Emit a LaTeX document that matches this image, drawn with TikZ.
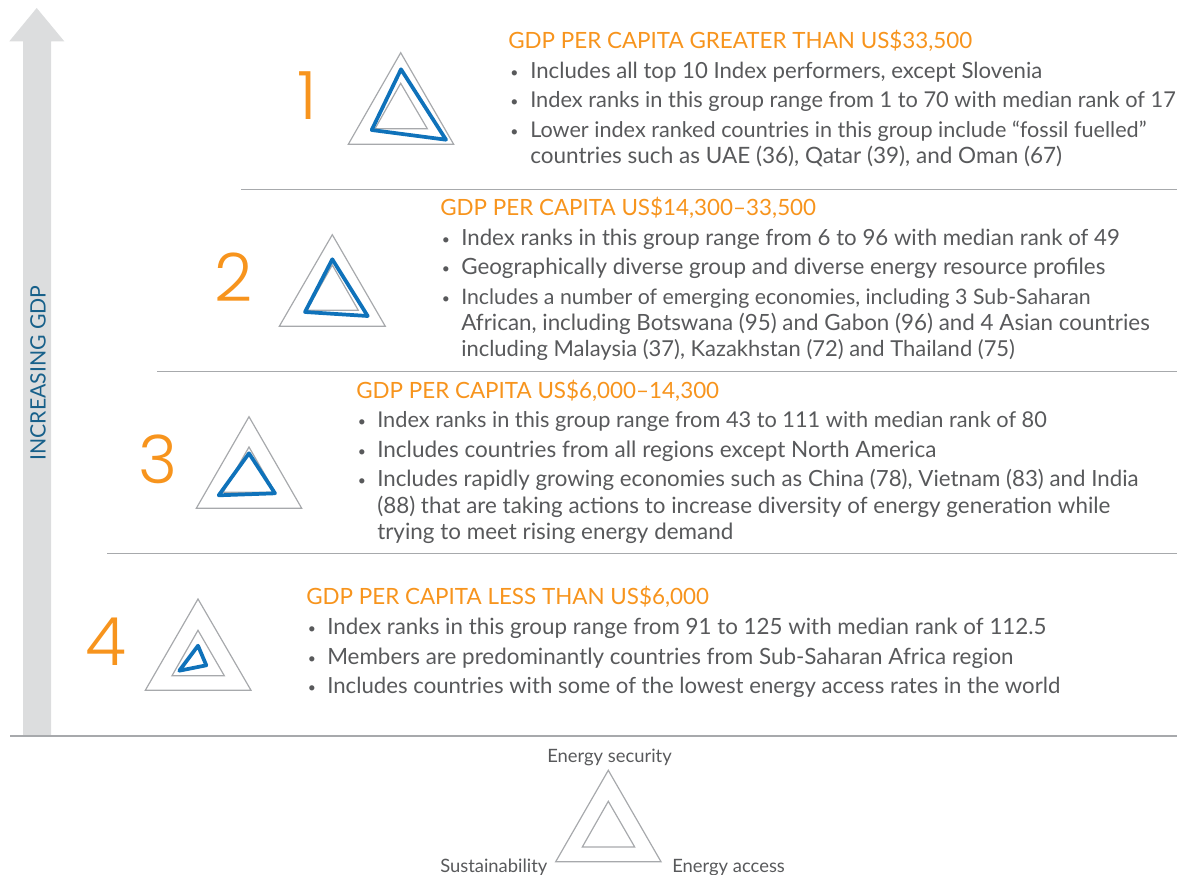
\documentclass[tikz,border=0pt]{standalone}
\usepackage{fontspec}
\setmainfont{Lato}
\newfontfamily\numfont{Poppins Light}
\definecolor{orangeT}{HTML}{F7941D}
\definecolor{blueT}{HTML}{0F72BA}
\definecolor{bodyT}{HTML}{58595B}
\definecolor{rim}{HTML}{A7A9AC}
\definecolor{arrowfill}{HTML}{DCDDDE}
\definecolor{axisT}{HTML}{17608A}
\tikzset{
  x=0.75pt,y=-0.75pt,
  head/.style={anchor=base west,inner sep=0,yshift=-0.5pt,text=orangeT,font=\fontsize{16.8}{18}\selectfont},
  body/.style={anchor=base west,inner sep=0,yshift=-1pt,text=bodyT,font=\fontsize{#1}{18}\selectfont},
  body/.default=16.35,
  dot/.style={anchor=base west,inner sep=0,yshift=-1pt,text=bodyT,font=\fontsize{10.5}{12}\selectfont},
  small/.style={anchor=base west,inner sep=0,yshift=-0.8pt,text=bodyT,font=\fontsize{13.8}{15}\selectfont},
  big/.style={anchor=base,inner sep=0,text=orangeT,font=\numfont\fontsize{50}{52}\selectfont},
  rimline/.style={draw=rim,line width=0.9pt,line join=miter},
  score/.style={draw=blueT,line width=2.8pt,line join=round},
  rule/.style={draw=rim,line width=0.8pt},
}
\begin{document}
\begin{tikzpicture}
\useasboundingbox (0,0) rectangle (1183,875);
\fill[arrowfill] (36.7,8) -- (64.3,41.3) -- (51,41.3) -- (51,736) -- (23,736) -- (23,41.3) -- (9.3,41.3) -- cycle;
\node[rotate=90,inner sep=0,text=axisT,font=\fontsize{15.9}{17}\selectfont] (axis) at (38,373) {INCREASING GDP};
% rules
\coordinate (r1a) at (241,189.5); \coordinate (r1b) at (1177,189.5);
\coordinate (r2a) at (157,371.5); \coordinate (r2b) at (1177,371.5);
\coordinate (r3a) at (107,553.5); \coordinate (r3b) at (1177,553.5);
\coordinate (r4a) at (10,736);    \coordinate (r4b) at (1177,736);
\draw[rule] (r1a) -- (r1b); \draw[rule] (r2a) -- (r2b); \draw[rule] (r3a) -- (r3b); \draw[rule] (r4a) -- (r4b);
% triangles 1
\draw[rimline] (400.7,52.7) -- (348.3,144.3) -- (453.7,144.3) -- cycle;
\draw[rimline] (400.7,83.3) -- (375,128.7) -- (427.3,128.7) -- cycle;
\draw[score] (401,69.3) -- (371.7,130) -- (446,139.7) -- cycle;
% 2
\draw[rimline] (332.3,234.7) -- (279.3,326.3) -- (385.3,326.3) -- cycle;
\draw[rimline] (332.3,265) -- (306.7,310.3) -- (358.3,310.3) -- cycle;
\draw[score] (332.3,259.3) -- (305,312) -- (367.7,316) -- cycle;
% 3
\draw[rimline] (249,416.7) -- (196.3,508.3) -- (301.7,508.3) -- cycle;
\draw[rimline] (249,447) -- (223,492.3) -- (275,492.3) -- cycle;
\draw[score] (249,453.3) -- (218.7,495.3) -- (275,493.3) -- cycle;
% 4
\draw[rimline] (198,599) -- (145.3,690.3) -- (251,690.3) -- cycle;
\draw[rimline] (198,630.3) -- (172,675.7) -- (224.3,675.7) -- cycle;
\draw[score] (198,645.7) -- (179.3,670.7) -- (206.3,665.3) -- cycle;
% legend
\draw[rimline] (608.3,770.3) -- (555.7,861.7) -- (661,861.7) -- cycle;
\draw[rimline] (608.3,801.3) -- (582.3,847) -- (634.7,847) -- cycle;
\node[small] (l1) at (547,761) {Energy security};
\node[small] (l2) at (440,871) {Sustainability};
\node[small] (l3) at (672,871) {Energy access};
% numbers
\node[big] (n1) at (307,119) {1};
\node[big] (n2) at (234,301) {2};
\node[big] (n3) at (158,483) {3};
\node[big] (n4) at (106,665) {4};
% group 1
\node[head] (h1) at (508,47.5) {GDP PER CAPITA GREATER THAN US\$33,500};
\node[dot] (b1a) at (510,76) {•}; \node[body=16.64] (t1a) at (530,77) {Includes all top 10 Index performers, except Slovenia};
\node[dot] (b1b) at (510,105) {•}; \node[body=16.35] (t1b) at (530,106) {Index ranks in this group range from 1 to 70 with median rank of 17};
\node[dot] (b1c) at (510,135) {•}; \node[body=16.22] (t1c) at (530,136) {Lower index ranked countries in this group include “fossil fuelled”};
\node[body=16.89] (t1d) at (530,162) {countries such as UAE (36), Qatar (39), and Oman (67)};
% group 2
\node[head] (h2) at (440,214.5) {GDP PER CAPITA US\$14,300–33,500};
\node[dot] (b2a) at (441.5,243) {•}; \node[body=16.68] (t2a) at (461,244) {Index ranks in this group range from 6 to 96 with median rank of 49};
\node[dot] (b2b) at (441.5,272) {•}; \node[body=16.79] (t2b) at (461,273) {Geographically diverse group and diverse energy resource profiles};
\node[dot] (b2c) at (441.5,302) {•}; \node[body=15.99] (t2c) at (461,303) {Includes a number of emerging economies, including 3 Sub-Saharan};
\node[body=16.78] (t2d) at (461,329) {African, including Botswana (95) and Gabon (96) and 4 Asian countries};
\node[body=16.47] (t2e) at (461,355) {including Malaysia (37), Kazakhstan (72) and Thailand (75)};
% group 3
\node[head] (h3) at (356,397.5) {GDP PER CAPITA US\$6,000–14,300};
\node[dot] (b3a) at (357.5,425) {•}; \node[body=16.32] (t3a) at (377,426) {Index ranks in this group range from 43 to 111 with median rank of 80};
\node[dot] (b3b) at (357.5,455) {•}; \node[body=16.89] (t3b) at (377,456) {Includes countries from all regions except North America};
\node[dot] (b3c) at (357.5,484) {•}; \node[body=16.72] (t3c) at (377,485) {Includes rapidly growing economies such as China (78), Vietnam (83) and India};
\node[body=16.81] (t3d) at (377,512) {(88) that are taking actions to increase diversity of energy generation while};
\node[body=16.82] (t3e) at (377,538) {trying to meet rising energy demand};
% group 4
\node[head] (h4) at (306,603.5) {GDP PER CAPITA LESS THAN US\$6,000};
\node[dot] (b4a) at (307.5,632) {•}; \node[body=16.77] (t4a) at (327,633) {Index ranks in this group range from 91 to 125 with median rank of 112.5};
\node[dot] (b4b) at (307.5,662) {•}; \node[body=16.79] (t4b) at (327,663) {Members are predominantly countries from Sub-Saharan Africa region};
\node[dot] (b4c) at (307.5,691) {•}; \node[body=16.64] (t4c) at (327,692) {Includes countries with some of the lowest energy access rates in the world};
\end{tikzpicture}
\end{document}
